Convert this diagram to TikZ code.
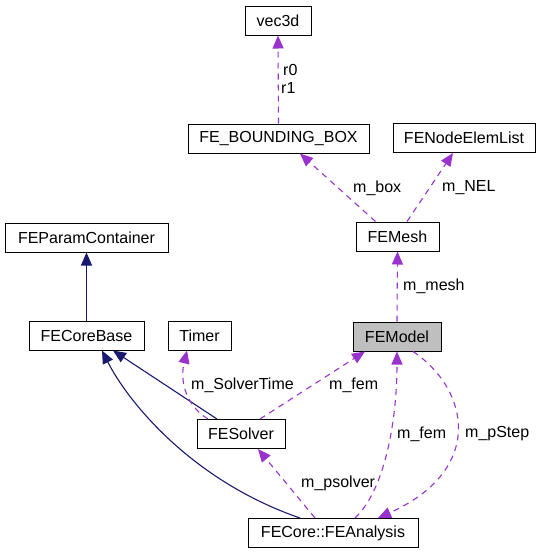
\documentclass[tikz,border=0pt]{standalone}
\usepackage{fontspec}
\setmainfont{Liberation Sans}
\usetikzlibrary{arrows.meta,calc}
\definecolor{dep}{HTML}{9A32CD}
\definecolor{inh}{HTML}{191970}
\definecolor{modelfill}{HTML}{BFBFBF}
\tikzset{
  cls/.style={draw=black, line width=1pt, fill=white, minimum height=29pt, inner sep=0pt,
    font=\fontsize{16}{19}\selectfont},
  usedep/.style={draw=dep, line width=1.1pt, dash pattern=on 6pt off 5pt,
    -{Triangle[length=13pt,width=11pt]}},
  inhedge/.style={draw=inh, line width=1.1pt, -{Triangle[length=13pt,width=11pt]}},
  lbl/.style={anchor=west, inner sep=0pt, font=\fontsize{16}{19}\selectfont}
}
\begin{document}
\begin{tikzpicture}[x=1pt,y=-1pt]
\useasboundingbox (0,0) rectangle (540,555);
% classes
\node[cls, minimum width=66pt]  (vec3d) at (278,20.5) {vec3d};
\node[cls, minimum width=181pt] (FEBB) at (278.5,138.5) {FE\_BOUNDING\_BOX};
\node[cls, minimum width=142pt] (FENEL) at (464,138) {FENodeElemList};
\node[cls, minimum width=83pt]  (FEMesh) at (397.5,236.5) {FEMesh};
\node[cls, minimum width=163pt] (FEParam) at (86.5,237.5) {FEParamContainer};
\node[cls, minimum width=115pt] (FECoreBase) at (86.5,335.5) {FECoreBase};
\node[cls, minimum width=63pt]  (Timer) at (199.5,335.5) {Timer};
\node[cls, minimum width=88pt, fill=modelfill] (FEModel) at (397,336.5) {FEModel};
\node[cls, minimum width=88pt]  (FESolver) at (241,434) {FESolver};
\node[cls, minimum width=170pt] (FEAnalysis) at (333,533) {FECore::FEAnalysis};
% coordinates
\coordinate (meshA) at ($(FEMesh.north)+(-22,0)$);
\coordinate (meshB) at ($(FEMesh.north)+(9.5,0)$);
\coordinate (bbB) at ($(FEBB.south)+(21.5,0)$);
\coordinate (nelB) at ($(FENEL.south)+(-11,0)$);
\coordinate (solA) at ($(FESolver.north)+(-24,0)$);
\coordinate (solT) at ($(FESolver.north)+(-33,0)$);
\coordinate (solM) at ($(FESolver.north)+(19,0)$);
\coordinate (solS) at ($(FESolver.south)+(17,0)$);
\coordinate (cbA) at ($(FECoreBase.south)+(26.5,0)$);
\coordinate (cbB) at ($(FECoreBase.south)+(15.5,0)$);
\coordinate (timB) at ($(Timer.south)+(-12.5,0)$);
\coordinate (modA) at ($(FEModel.south)+(-32,0)$);
\coordinate (modS) at ($(FEModel.south)+(16,0)$);
\coordinate (anC) at ($(FEAnalysis.north)+(-33,0)$);
\coordinate (anP) at ($(FEAnalysis.north)+(-18,0)$);
\coordinate (anF) at ($(FEAnalysis.north)+(22,0)$);
\coordinate (anS) at ($(FEAnalysis.north)+(45,0)$);
% dependencies
\draw[usedep] (FEBB.north) -- (vec3d.south);
\node[lbl] (lr0) at (283,70) {r0};
\node[lbl] (lr1) at (281,88) {r1};
\draw[usedep] (meshA) -- (bbB);
\node[lbl] (lbox) at (353,188) {m\_box};
\draw[usedep] (meshB) -- (nelB);
\node[lbl] (lnel) at (442,188) {m\_NEL};
\draw[usedep] (FEModel.north) -- (FEMesh.south);
\node[lbl] (lmesh) at (403,286) {m\_mesh};
% inheritance
\draw[inhedge] (FECoreBase.north) -- (FEParam.south);
\draw[inhedge] (solA) -- (cbA);
\draw[inhedge] (anC) .. controls (190,480) and (127,400) .. (cbB);
% solver deps
\draw[usedep] (solT) .. controls (185,405) and (180,380) .. (timB);
\node[lbl] (lst) at (191,385) {m\_SolverTime};
\draw[usedep] (solM) -- (modA);
\node[lbl] (lfem1) at (329,385) {m\_fem};
\draw[usedep] (anF) .. controls (385,490) and (397,420) .. (FEModel.south);
\node[lbl] (lfem2) at (397,434) {m\_fem};
\draw[usedep] (modS) .. controls (470,390) and (485,470) .. (anS);
\node[lbl] (lstep) at (465,434) {m\_pStep};
\draw[usedep] (anP) -- (solS);
\node[lbl] (lps) at (301,483) {m\_psolver};
\end{tikzpicture}
\end{document}
